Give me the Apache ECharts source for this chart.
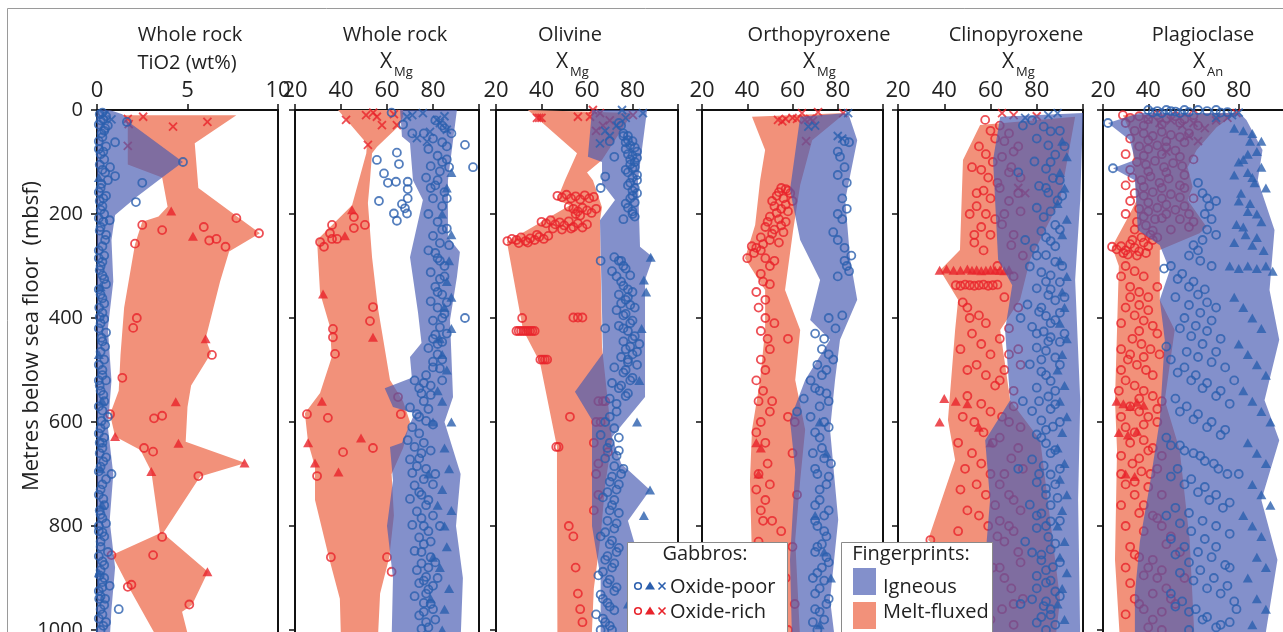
<!DOCTYPE html>
<html>
<head>
<meta charset="utf-8">
<script src="https://cdn.jsdelivr.net/npm/echarts@6/dist/echarts.min.js"></script>
<style>
html, body { margin: 0; padding: 0; background: #fff; overflow: hidden; }
#main { width: 1283px; height: 632px; }
</style>
</head>
<body>
<div id="main"></div>
<script>
var chart = echarts.init(document.getElementById('main'));
var FONT = "'Open Sans', sans-serif";
var BLUE = '#2b5fae', RED = '#e8232b';
var IGN = 'rgba(72,92,178,0.68)', MELT = '#f2917a';

// tick labels
var depthTicks = [0, 200, 400, 600, 800, 1000];
var tiTicks = [0, 5, 10];
var xTicks = [20, 40, 60, 80];

// ---- Whole rock TiO2 ----
var tiIgneous = [[0,0],[0.7,0],[1.4,8],[1.75,23],[4.75,100],[3.6,130],[2.2,167],[1.0,202],[0.8,250],[0.9,330],[0.6,420],[0.8,520],[0.6,610],[0.9,700],[0.7,790],[1.0,880],[0.8,960],[0.7,1020],[0,1020]];
var tiMelt = [[1.45,10],[7.7,10],[5.4,64],[5.6,150],[7.7,204],[9.0,237],[7.3,272],[6.8,330],[6.0,440],[6.3,468],[5.2,530],[5.0,571],[4.9,638],[8.2,679],[5.7,705],[3.65,814],[6.13,888],[5.25,952],[4.7,965],[5.1,1020],[3.4,1020],[1.71,915],[0.83,856],[3.48,814],[3.0,695],[2.4,654],[1.0,628],[0.72,585],[1.2,540],[1.3,470],[1.5,380],[2.1,258],[2.5,215],[3.4,205],[3.9,186],[3.6,130],[1.7,105],[1.7,27]];
var tiPoorO = [[1.0,62],[0.72,110],[1.0,127],[2.5,140],[2.15,177],[1.65,23],[4.75,100],[0.7,212],[1.2,960],
  [0.3,5],[0.5,12],[0.2,20],[0.6,30],[0.4,40],[0.3,52],[0.5,70],[0.2,85],[0.4,95],[0.3,115],[0.6,135],[0.2,150],[0.5,165],[0.3,185],[0.4,200],[0.2,225],[0.5,240],[0.3,262],[0.4,280],[0.2,300],[0.3,318],[0.5,335],[0.2,355],[0.4,372],[0.3,390],[0.2,410],[0.5,428],[0.3,445],[0.2,465],[0.4,480],[0.3,500],[0.5,520],[0.2,540],[0.4,560],[0.3,578],[0.6,590],[0.2,612],[0.4,630],[0.3,650],[0.5,668],[0.2,686],[0.8,700],[0.3,720],[0.1,740],[0.4,760],[0.2,778],[0.5,795],[0.3,812],[0.2,830],[0.6,850],[0.3,868],[0.2,885],[0.4,900],[0.3,918],[0.7,915],[0.2,935],[0.4,952],[0.3,970],[0.5,985],[0.2,1000],
  [0.1,60],[0.15,175],[0.1,270],[0.12,380],[0.1,520],[0.15,640],[0.1,810],[0.12,940],
  [0.15,8],[0.35,18],[0.1,28],[0.45,35],[0.25,45],[0.1,75],[0.35,80],[0.15,105],[0.45,120],[0.25,142],[0.1,158],[0.35,170],[0.2,192],[0.1,208],[0.35,215],[0.15,232],[0.45,250],[0.1,285],[0.3,292],[0.15,308],[0.4,325],[0.1,345],[0.3,362],[0.15,398],[0.4,402],[0.1,420],[0.25,438],[0.45,455],[0.1,490],[0.3,510],[0.15,530],[0.35,548],[0.1,570],[0.25,598],[0.45,605],[0.1,622],[0.3,640],[0.15,660],[0.35,676],[0.1,695],[0.5,710],[0.2,730],[0.35,748],[0.15,770],[0.3,785],[0.1,800],[0.4,820],[0.2,840],[0.1,858],[0.4,875],[0.15,895],[0.3,908],[0.1,925],[0.45,940],[0.2,960],[0.1,978],[0.35,992]];
var tiPoorT = [[0.1,130],[0.2,340],[0.1,470],[0.3,560],[0.2,690],[0.1,890],[0.3,760]];
var tiPoorX = [[0.4,10],[0.8,18]];
var tiRichO = [[2.5,221],[3.6,231],[2.1,257],[5.9,225],[7.7,208],[8.95,237],[6.2,251],[6.6,248],[7.1,263],[2.2,400],[2.0,419],[6.35,471],[1.4,515],[0.72,585],[3.15,593],[3.6,588],[2.6,650],[3.1,657],[5.6,704],[3.6,821],[3.1,856],[0.8,856],[1.7,917],[1.9,913],[5.1,951]];
var tiRichT = [[4.1,194],[5.3,243],[6.0,440],[4.35,561],[1.0,628],[4.5,641],[8.15,679],[3.0,695],[6.1,888]];
var tiRichX = [[1.7,17],[2.55,13],[4.2,32],[6.1,23],[1.75,27],[1.7,69]];

// ---- Whole rock XMg ----
var wrIgneous = [[65.7,0],[90.4,0],[86.5,135],[86.5,244],[91.7,273],[90.4,321],[87.4,404],[88.7,552],[85,600],[92,700],[90,800],[93,900],[92,1020],[62,1020],[62.6,900],[60,800],[62.6,712],[61.3,648],[66.5,640],[72,583],[62.6,571],[59,535],[70.8,515],[70,475],[75,448],[73.5,390],[70,283],[75.6,173],[71.3,135],[70,64],[66.5,51]];
var wrMelt = [[38.7,0],[67,0],[67,13],[64.8,32],[55.6,71],[53.5,83],[52.6,135],[51.7,179],[53.5,283],[56,379],[61.3,519],[67,560],[70,600],[67,650],[62,700],[63,780],[61,860],[57,930],[56,1020],[40,1020],[39.5,940],[35,865],[28.7,750],[28.7,686],[25.7,640],[24.3,583],[30.9,544],[36,475],[35.2,417],[30.9,352],[30,283],[29.6,250],[44.8,183],[51,83],[51.3,65]];
var wrPoorO = [[55.6,96],[64.3,82],[65.2,104],[58.7,122],[60.4,140],[63.9,138],[69,138],[69,152],[93.9,67],[97.4,110],[56.5,175],[66.5,181],[67.8,189],[63,199],[64.3,213],[69,170],[68.7,199],[93.9,400],[62,5],[67,28],[71,45],
  [76,45],[80,55],[84,62],[78,75],[82,88],[86,95],[79,108],[83,118],[77,130],[81,145],[85,158],[80,170],[84,185],[78,200],[82,215],[86,228],[80,242],[83,256],[78,270],[82,285],[85,300],[79,312],[83,325],[81,340],[84,355],[79,368],[82,380],[85,392],[80,405],[83,418],[81,432],[84,446],[78,458],[82,470],[80,484],[83,497],[77,510],[72,520],[74,535],[79,548],[76,560],[70,572],[73,585],[77,598],[71,610],[74,622],[69,635],[72,648],[75,660],[70,672],[73,685],[71,698],[76,710],[72,722],[74,735],[70,748],[77,760],[73,772],[75,785],[71,798],[78,810],[74,822],[76,835],[72,848],[79,860],[75,872],[73,885],[77,898],[74,910],[78,922],[72,935],[76,948],[80,960],[74,972],[77,985],[75,998],
  [81,20],[85,35],[79,150],[83,290],[80,440],[84,520],[81,700],[83,800],[82,900],
  [84,30],[88,45],[86,70],[84,100],[87,110],[82,135],[86,170],[84,230],[87,260],[81,275],[85,320],[82,350],[86,370],[84,400],[86,430],[82,450],[84,480],[80,495],[76,525],[79,530],[75,545],[78,575],[74,590],[80,605],[76,640],[79,655],[74,670],[77,690],[80,720],[75,740],[78,750],[80,780],[76,800],[79,830],[75,850],[81,870],[78,880],[76,905],[80,915],[77,930],[79,950],[76,965],[81,980],[78,995]];
var wrPoorT = [[88,120],[86,150],[84,200],[88,240],[87,290],[86,330],[88,360],[85,380],[88,420],[83,440],[84,470],[86,500],[82,540],[84,560],[88,600],[85,650],[87,690],[84,730],[88,770],[85,800],[86,840],[83,880],[87,920],[85,960],[84,1000],[80,600],[78,700],[82,760],[80,860],[79,940]];
var wrPoorX = [[68.7,13],[75.6,6],[78.7,42],[83,25],[86,38],[73,54],[77.4,61],[81.7,19],[71,10],[85,12]];
var wrRichO = [[36.1,221],[45.6,206],[50.4,221],[45.6,227],[35.2,237],[36.1,248],[30.9,254],[32.6,263],[38.3,248],[53.9,379],[52.6,406],[36.5,421],[36.5,437],[37.4,469],[25.2,585],[34.3,592],[40.9,658],[53.9,650],[29.6,704],[35.6,860],[60,860],[62,888],[64.8,552],[66,585]];
var wrRichT = [[44.8,192],[41.7,242],[32.2,354],[53.9,437],[31.7,560],[48.7,631],[25.7,640],[28.7,679],[38.9,696]];
var wrRichX = [[42.2,19],[50.9,10],[55.6,13],[57.8,29],[64.3,29],[51.7,67],[54,5],[63,8]];

// ---- Olivine XMg ----
var olIgneous = [[62.2,0],[86.4,0],[82.4,135],[83.3,263],[89,283],[85.5,327],[85.5,552],[71,629],[75,680],[87.7,731],[78,790],[82,850],[84,950],[84,1020],[66,1020],[66,900],[62.2,800],[62.2,596],[54.7,542],[67,468],[65.7,212],[72.3,173],[66.6,141],[66.6,100],[60.4,90]];
var olMelt = [[34,0],[80,6],[66.6,96],[60,120],[62.6,135],[66.6,187],[65.7,212],[66.6,456],[71,635],[68,720],[66,820],[63,920],[62,1020],[47,1020],[46.8,712],[46.8,648],[39.3,485],[31.9,423],[24.8,254],[52.5,183],[46.8,173],[50.3,135],[55.6,83]];
var olPoorO = [[76,45],[78,50],[80,60],[77,75],[82,80],[79,95],[81,100],[80,112],[78,120],[82,125],[79,140],[81,150],[80,165],[77,180],[80,195],[81,205],[70,60],[72,90],[75,30],[74,25],[66,150],[68,128],
  [72,283],[74,290],[76,300],[71,310],[73,320],[75,330],[78,345],[74,355],[77,365],[79,375],[73,385],[76,395],[80,405],[74,415],[78,425],[81,435],[76,445],[79,455],[82,465],[75,475],[78,485],[72,495],[76,505],[80,515],[71,525],[74,535],[78,545],[70,555],[73,565],[66,290],[68,420],
  [68,600],[72,612],[66,625],[70,640],[74,655],[68,670],[72,685],[75,700],[70,715],[73,730],[67,745],[71,760],[74,775],[69,790],[72,805],[66,820],[70,835],[73,850],[68,865],[71,880],[65,895],[69,910],[72,925],[67,940],[70,955],[64,970],[68,985],[71,1000],[66,1000],
  [76,50],[78,58],[77,62],[79,68],[81,72],[78,85],[80,88],[82,92],[79,105],[81,110],[77,115],[80,130],[82,135],[78,145],[80,155],[82,160],[79,170],[81,178],[78,188],[80,200],[76,210],
  [75,290],[77,305],[79,318],[76,338],[80,350],[78,360],[75,372],[81,380],[77,392],[79,410],[76,420],[80,440],[83,450],[77,460],[80,470],[78,480],[82,490],[77,500],[79,520],[75,530],[77,550],[73,580],[70,590],[74,630],[69,650],[73,665],[76,690],[71,705],[74,720],[69,735],[72,750],[70,770],[73,795],[68,812],[71,828],[74,842],[69,858],[72,872],[67,888],[70,903],[73,918],[66,932],[69,948],[72,962],[67,978],[70,992]];
var olPoorT = [[88,283],[85,327],[86,350],[84,420],[83,520],[87.7,731],[80,860],[82,600],[85,780],[78,950]];
var olPoorX = [[75.4,0],[84.6,6],[65.7,64],[70,50],[73,30],[77,15],[68,40]];
var olRichO = [[47,165],[49,168],[51,163],[53,170],[55,166],[57,172],[59,164],[61,170],[63,167],
  [52,186],[54,190],[56,195],[58,188],[60,193],[62,198],[64,190],[55,200],[57,203],
  [40,215],[42,218],[44,212],[46,220],[48,216],[50,222],[52,214],[54,225],[56,218],[58,226],[60,220],[45,228],[49,230],[53,228],
  [25,252],[27,248],[29,250],[31,245],[33,252],[35,247],[37,250],[39,244],[41,248],[43,242],[30,256],[34,255],[38,240],
  [31.5,400],[54,399],[56,399],[58,399],[29,425],[30,425],[31,425],[32,425],[33,425],[34,425],[35,425],[36,425],[37,425],[39.5,480],[40.5,480],[41.5,480],[42.5,480],[52.5,590],[46.5,648],[47.5,648],[69.2,658],
  [65,560],[67,560],[68,560],[64,600],[66,600],[63,640],[65,680],[64,700],[65,740],[63,770],[52,800],[54,820],[55,880],[56,930],[57,960],[58,985]];
var olRichT = [];
var olRichX = [[38,15],[39,15],[40,15],[56,13],[61.3,13],[62.6,0],[65.7,6],[80.2,10],[64,40],[67,30],[70,20]];

// ---- Orthopyroxene XMg ----
var opxIgneous = [[63.4,13],[84.6,6],[88.6,58],[83.3,173],[85.5,288],[88.6,365],[81,442],[78.8,519],[76.6,615],[80.2,788],[76.6,942],[78.8,1020],[59.8,1020],[58.9,865],[61.2,692],[58.9,596],[65.6,519],[76.6,442],[67.8,404],[72.2,327],[63.4,250],[58.9,154]];
var opxMelt = [[42.1,13],[83.3,6],[68.7,58],[63.4,144],[60.3,231],[56.7,346],[63.4,423],[61.2,519],[65.6,615],[63.4,712],[61.2,827],[63.4,1020],[45.7,1020],[42.1,865],[41.2,712],[42.1,615],[45.7,519],[47.9,423],[47.9,346],[39,285],[43.5,221],[45.7,135],[47.9,77]];
var opxPoorO = [[83,60],[85,62],[80,80],[84,140],[82,170],[80,200],[78,235],[83,290],[84,300],[80,320],[82,395],[76,400],[70,430],[73,460],[78,480],[75,500],[68,520],[72,540],[76,560],[74,600],[70,620],[73,650],[77,680],[71,700],[75,720],[72,750],[76,770],[70,790],[74,810],[71,840],[75,860],[73,880],[69,900],[72,920],[76,940],[70,960],[74,980],[71,1000],[65,555],[62,580],
  [81,90],[83,110],[80,125],[84,190],[82,210],[80,250],[83,265],[86,280],[85,310],[79,420],[74,440],[76,470],[71,490],[73,510],[70,535],[75,545],[72,570],[68,590],[76,610],[72,630],[69,660],[74,670],[70,690],[76,705],[72,730],[70,760],[74,780],[71,800],[75,820],[73,835],[70,850],[76,870],[71,890],[74,905],[70,930],[75,950],[72,965],[69,985]];
var opxPoorT = [[72,600],[75,660],[70,780],[74,850],[77,900],[72,990]];
var opxPoorX = [[67,32],[84.6,6],[70,30],[80,50],[82,55]];
var opxRichO = [[55,150],[57,152],[58,155],[53,165],[56,170],[60,175],[52,185],[55,190],[58,195],[50,205],[54,210],[57,215],[48,225],[52,230],[56,235],[46,245],[50,250],[54,255],[42,262],[44,265],[46,270],[40,285],[48,285],[52,290],
  [47,330],[50,335],[45,380],[48,400],[52,410],[46,425],[49,440],[58,440],[44,520],[47,540],[51,560],[58,590],[61,600],[44,620],[48,640],[60,660],[45,700],[50,720],[62,740],[47,790],[55,810],[60,840],[52,870],[57,900],[50,930],[61,950],[54,980],[58,1000],
  [54,158],[59,160],[51,175],[57,182],[53,198],[49,215],[55,222],[51,238],[47,258],[43,275],[50,300],[46,315],[44,350],[48,365],[50,460],[46,480],[48,500],[45,560],[50,580],[46,600],[49,680],[44,730],[48,750],[46,770],[51,790],[45,830],[49,850],[53,880],[47,910],[51,960]];
var opxRichT = [[44,640],[46,650],[45,700]];
var opxRichX = [[53.6,19],[55.5,22],[57,17],[62,17],[64.2,6],[65.5,19],[67.8,17],[69,21],[71.3,4],[82.4,6],[66,60],[60,15]];

// ---- Clinopyroxene XMg ----
var cpxIgneous = [[64.2,13],[100,6],[98.8,173],[96.6,327],[98.8,558],[97.9,750],[98.8,1020],[59.8,1020],[57.7,865],[59.8,750],[57.7,635],[68.5,558],[66.3,423],[69.4,337],[63.3,288],[61.1,96]];
var cpxMelt = [[55.5,29],[96.6,13],[90.1,173],[77.1,288],[72.8,365],[64.2,423],[68.5,558],[81.5,635],[85.8,788],[90.1,942],[88,1020],[46.8,1020],[44.7,981],[42.5,865],[33,827],[44.7,673],[41.6,596],[44.7,423],[46,365],[38.2,308],[46.8,269],[48.1,96]];
var cpxPoorO = [[78,20],[83,32],[86,41],[80,55],[85,68],[88,86],[79,99],[84,113],[87,131],[81,146],[85,159],[89,174],[80,188],[83,206],[88,221],[82,233],[86,252],[79,266],[84,279],[88,292],[77,301],[82,312],[86,318],[90,331],[80,343],[85,356],[88,366],[76,374],[81,388],[84,396],[88,404],[78,417],[83,426],[86,437],[90,446],[80,457],[84,463],[88,476],[77,489],[82,503],[86,521],[80,534],[85,551],[88,566],[78,579],[82,597],[87,609],[80,624],[84,641],[88,654],[78,672],[83,684],[86,701],[80,716],[84,728],[89,746],[77,759],[82,776],[86,791],[80,804],[85,821],[88,834],[78,851],[82,866],[87,879],[80,896],[84,909],[88,926],[78,941],[83,954],[86,971],[80,986],[84,1000],
  [74,30],[72,120],[75,250],[73,400],[74,560],[72,690],[75,830],[73,950],
  [90,40],[92,70],[86,100],[90,135],[84,150],[91,165],[86,195],[90,230],[84,245],[88,262],[80,280],[91,300],[84,330],[86,345],[92,360],[82,380],[90,390],[86,410],[80,430],[92,430],[85,445],[82,480],[90,490],[84,510],[88,540],[81,560],[86,575],[90,600],[84,615],[82,630],[86,660],[90,690],[81,700],[88,720],[84,740],[86,760],[80,780],[90,790],[84,800],[86,845],[82,855],[90,870],[84,885],[86,905],[80,920],[90,935],[84,945],[86,960],[82,975],[88,990]];
var cpxPoorT = [[91,60],[93,90],[90,120],[92,150],[89,180],[93,210],[91,240],[90,290],[93,320],[91,350],[92,380],[90,410],[93,440],[91,470],[89,500],[92,530],[90,560],[93,590],[91,620],[89,650],[92,680],[90,710],[93,740],[91,770],[89,800],[92,830],[90,860],[93,890],[91,920],[89,950],[92,980]];
var cpxPoorX = [[89,6],[85,10],[75,15]];
var cpxRichO = [[57.7,19],[60,40],[62,55],[55,70],[58,85],[61,100],[56,115],[59,130],[63,140],[57,155],[60,170],[54,185],[58,200],[62,210],[56,225],[60,240],[53,255],[57,270],
  [45,337],[47,338],[49,336],[51,337],[53,338],[55,337],[57,336],[59,338],[61,337],[63,336],
  [50,380],[55,395],[58,410],[52,430],[56,450],[60,470],[54,490],[58,510],[62,530],[50,550],[56,565],[60,580],[53,600],[57,620],[61,640],[52,660],[56,680],[60,700],[54,720],[58,740],[62,760],[55,780],[59,800],[34,827],[63,820],[53,840],[57,860],[61,880],[55,900],[59,920],[52,940],[56,960],[60,980],[54,1000],
  [66,60],[70,80],[68,120],[72,160],[66,200],[70,240],[68,420],[72,460],[66,500],[70,540],[68,600],[72,650],[66,700],[70,750],[68,800],[72,850],[66,900],[70,950],
  [64,30],[68,45],[72,70],[65,90],[69,110],[73,130],[64,150],[68,175],[73,195],[65,220],[69,260],[74,280],[63,300],[70,320],[66,360],[72,380],[64,440],[68,470],[73,490],[64,520],[70,570],[65,590],[73,610],[64,630],[69,670],[74,690],[64,720],[68,740],[73,770],[64,790],[70,810],[66,830],[73,870],[64,880],[69,920],[74,940],[65,960],[70,990],
  [52,110],[54,160],[51,200],[53,240],[48,370],[51,400],[47,460],[50,500],[48,590],[46,640],[49,690],[47,730],[50,770],[46,810],[49,850],[47,890],[50,930],[48,970]];
var cpxRichT = [[38,308],[41,306],[44,308],[47,308],[50,306],[52,308],[54,307],[56,309],[58,308],[60,307],[62,308],[64,308],[66,309],[68,307],[40,555],[45,560],[50,565],[38,600],[55,610],[60,640]];
var cpxRichX = [[65,6],[70,10],[80,12],[72,150],[75,160]];

// ---- Plagioclase XAn ----
var plIgneous = [[36.3,6],[22.2,25],[31.9,58],[34.1,96],[24.4,112],[34.1,135],[35.4,231],[45.1,260],[49.5,308],[45.1,365],[47.3,442],[45.1,596],[40.7,720],[36.3,830],[34.1,930],[34.1,1020],[91.4,1020],[97.1,865],[90,750],[97.9,635],[91.4,558],[97.9,442],[93.6,346],[95.8,231],[88.4,135],[90.5,77],[83.4,19],[80.4,6]];
var plMelt = [[28.8,10],[79,6],[70.2,33],[61.4,77],[57.4,110],[59.6,148],[57.4,173],[65.8,225],[62.7,237],[45.1,269],[45.1,365],[51.7,423],[47.3,558],[53.9,654],[58.3,827],[60.5,1020],[27.5,1020],[25.3,865],[26.2,654],[25.3,558],[26.2,423],[27,300],[24,263],[30.6,210],[35,173],[32.8,52]];
var plPoorO = [[22.2,25],[24.4,112],[40,0],[44,2],[48,0],[52,3],[56,0],[70,0],[75,4],[62,140],[64,160],[66,170],[60,260],[62,270],[65,200],[68,210],
  [50,300],[55,315],[60,330],[65,345],[52,360],[58,375],[63,390],[68,405],[54,420],[59,435],[64,450],[70,465],[50,480],[56,495],[61,510],[66,525],[72,540],[52,555],[57,570],[62,585],[68,600],[74,615],[48,630],[54,645],[60,660],[65,675],[71,690],[50,705],[56,720],[62,735],[67,750],[73,765],[48,780],[54,795],[59,810],[65,825],[70,840],[52,855],[58,870],[63,885],[69,900],[75,915],[50,930],[55,945],[61,960],[66,975],[72,990],[58,1000],
  [78,520],[80,700],[76,880],[79,960],
  [47,305],[53,325],[58,340],[62,355],[66,370],[70,380],[56,400],[61,415],[66,425],[72,440],[48,455],[57,465],[62,475],[68,485],[74,495],[53,505],[59,520],[64,535],[70,550],[76,565],[54,580],[60,595],[66,610],[72,625],[50,645],[56,655],[63,665],[69,680],[75,700],[53,690],[59,710],[65,725],[70,740],[76,755],[52,765],[58,775],[64,790],[70,800],[76,815],[50,825],[56,840],[62,850],[68,860],[74,875],[54,890],[60,905],[66,920],[72,930],[78,945],[52,955],[58,965],[64,980],[70,995],[76,985],
  [42,5],[46,6],[50,2],[54,6],[58,4],[62,0],[66,2],[72,5],[66,230],[70,240],[58,280],[63,290],[68,300],[64,250],[67,185],[70,175]];
var plPoorT = [[82,40],[85,60],[88,80],[80,100],[84,120],[87,140],[81,160],[85,180],[88,200],[79,220],[83,240],[86,260],[76,300],[80,305],[84,300],[88,305],[92,300],[95,310],[78,360],[82,380],[86,400],[90,420],[80,450],[84,470],[88,490],[92,510],[82,540],[86,560],[90,580],[94,600],[84,640],[88,660],[92,680],[86,720],[90,740],[94,760],[82,780],[86,800],[90,820],[88,860],[92,880],[84,900],[88,940],[92,960],[86,990],
  [78,35],[86,45],[90,60],[84,85],[82,95],[90,110],[78,125],[86,130],[92,150],[80,175],[84,195],[90,215],[82,225],[88,245],[78,255],[91,270]];
var plPoorX = [[70,15],[77,10],[80,5]];
var plRichO = [[28.8,10],[32,15],[36,12],[40,18],[44,10],[48,16],[52,12],[56,18],[60,10],
  [34,40],[38,45],[42,50],[46,42],[50,48],[54,52],[58,45],[36,70],[40,75],[44,68],[48,72],[52,78],[35,100],[39,105],[43,98],[47,110],[51,102],[55,108],[33,130],[37,135],[41,128],[45,140],[49,132],[34,160],[38,165],[42,158],[46,170],[50,162],[54,168],[36,190],[40,195],[44,188],[48,200],[52,192],[35,215],[39,222],[43,210],[58,200],[60,215],[56,150],
  [24,263],[26,268],[28,262],[30,270],[32,258],[34,265],[36,272],[38,255],[40,262],[42,250],[44,245],[41,240],[37,245],[33,250],[29,275],[31,278],[35,280],[39,275],
  [30,300],[34,310],[38,320],[32,340],[36,350],[40,360],[44,340],[30,380],[34,395],[38,405],[42,415],[33,440],[37,450],[41,460],[45,470],[31,480],[35,490],[39,500],[30,520],[34,530],[38,540],[42,550],[46,560],[32,570],[36,580],[40,590],[44,600],[30,610],[34,620],[38,635],[42,650],[46,665],[33,680],[37,695],[41,700],[30,720],[34,740],[38,760],[42,780],[46,800],[50,820],[32,840],[36,860],[40,880],[44,900],[48,920],[34,940],[38,960],[42,980],[46,1000],[54,850],[56,900],[52,950],
  [30,25],[38,30],[46,28],[54,25],[62,30],[32,55],[40,58],[48,60],[56,62],[30,85],[38,88],[46,85],[54,90],[60,95],[32,115],[40,118],[48,120],[56,125],[30,145],[38,148],[46,150],[54,145],[60,170],[32,175],[40,178],[48,182],[56,185],[30,200],[38,205],[46,208],[54,210],[34,230],[42,232],[50,230],[58,225],
  [28,320],[32,360],[36,375],[40,385],[28,410],[36,425],[44,430],[28,460],[32,470],[38,475],[28,500],[42,510],[27,540],[36,555],[44,575],[28,590],[38,605],[32,640],[40,655],[28,665],[36,670],[44,690],[28,700],[34,715],[40,725],[46,740],[28,760],[36,775],[44,785],[30,800],[38,810],[48,835],[34,855],[42,865],[30,880],[46,885],[38,895],[32,910],[42,930],[50,940],[36,950],[30,970],[46,965],[40,995]];
var plRichT = [[26,560],[29,565],[32,570],[35,562],[38,568],[27,620],[31,625],[35,618],[30,700],[34,705]];
var plRichX = [[40,18],[45,25],[50,20],[55,30],[60,25],[65,35],[70,20],[75,15],[79,6],[58,50],[62,60],[48,80]];

var titles = ['Whole rock', 'Whole rock', 'Olivine', 'Orthopyroxene', 'Clinopyroxene', 'Plagioclase'];
var subLabels = ['TiO2 (wt%)', 'X', 'X', 'X', 'X', 'X'];
var subScripts = ['', 'Mg', 'Mg', 'Mg', 'Mg', 'An'];

var panels = [
  {left: 97, width: 181, min: 0, max: 10, step: 5, ticks: tiTicks, tx: 190, sx: 187, ign: tiIgneous, melt: tiMelt, poor: [tiPoorO, tiPoorT, tiPoorX], rich: [tiRichO, tiRichT, tiRichX]},
  {left: 295, width: 184, min: 20, max: 100, step: 20, ticks: xTicks, tx: 395, sx: 386, ign: wrIgneous, melt: wrMelt, poor: [wrPoorO, wrPoorT, wrPoorX], rich: [wrRichO, wrRichT, wrRichX]},
  {left: 496, width: 182, min: 20, max: 100, step: 20, ticks: xTicks, tx: 570, sx: 562, ign: olIgneous, melt: olMelt, poor: [olPoorO, olPoorT, olPoorX], rich: [olRichO, olRichT, olRichX]},
  {left: 702, width: 181, min: 20, max: 100, step: 20, ticks: xTicks, tx: 819, sx: 809, ign: opxIgneous, melt: opxMelt, poor: [opxPoorO, opxPoorT, opxPoorX], rich: [opxRichO, opxRichT, opxRichX]},
  {left: 898, width: 185, min: 20, max: 100, step: 20, ticks: xTicks, tx: 1016, sx: 1008, ign: cpxIgneous, melt: cpxMelt, poor: [cpxPoorO, cpxPoorT, cpxPoorX], rich: [cpxRichO, cpxRichT, cpxRichX]},
  {left: 1103, width: 181, min: 20, max: 100, step: 20, ticks: xTicks, tx: 1203, sx: 1199, ign: plIgneous, melt: plMelt, poor: [plPoorO, plPoorT, plPoorX], rich: [plRichO, plRichT, plRichX]}
];

function polySeries(i, pts, fill, z) {
  return {
    type: 'custom', xAxisIndex: i, yAxisIndex: i, z: z, silent: true,
    data: pts, encode: {x: 0, y: 1},
    renderItem: function (params, api) {
      if (params.dataIndex !== 0) return null;
      return {
        type: 'polygon',
        shape: {points: pts.map(function (p) { return api.coord(p); })},
        style: {fill: fill}
      };
    }
  };
}

function dots(i, pts, kind, color, z) {
  var s = {type: 'scatter', xAxisIndex: i, yAxisIndex: i, z: z, silent: true, clip: false, data: pts};
  if (kind === 'o') {
    s.symbol = 'circle'; s.symbolSize = 8;
    s.itemStyle = {color: 'rgba(255,255,255,0)', borderColor: color, borderWidth: 1.8};
  } else if (kind === 't') {
    s.symbol = 'triangle'; s.symbolSize = [10, 9];
    s.itemStyle = {color: color};
  } else {
    s.symbol = 'path://M0,0L10,10M10,0L0,10'; s.symbolSize = 8;
    s.itemStyle = {color: 'rgba(0,0,0,0)', borderColor: color, borderWidth: 1.8};
  }
  return s;
}

var grids = [], xAxes = [], yAxes = [], series = [], graphics = [];
var kinds = ['o', 't', 'x'];

panels.forEach(function (p, i) {
  grids.push({left: p.left, width: p.width, top: 110, height: 530.4, show: true, borderColor: '#111', borderWidth: 2, containLabel: false, outerBoundsMode: 'none'});
  xAxes.push({
    gridIndex: i, type: 'value', position: 'top', min: p.min, max: p.max, interval: p.step,
    axisLine: {show: true, lineStyle: {color: '#111', width: 2}},
    axisTick: {show: true, inside: false, length: 6, lineStyle: {color: '#111', width: 1.5}},
    splitLine: {show: false},
    axisLabel: {
      show: true, margin: 8, color: '#222', fontSize: 22, fontFamily: FONT,
      formatter: (function (ticks) { return function (v) { return ticks.indexOf(v) >= 0 ? String(v) : ''; }; })(p.ticks)
    }
  });
  yAxes.push({
    gridIndex: i, type: 'value', inverse: true, min: 0, max: 1020, interval: 200,
    axisLine: {show: true, lineStyle: {color: '#111', width: 2}},
    axisTick: {show: true, inside: false, length: 6, lineStyle: {color: '#111', width: 1.5}},
    splitLine: {show: false},
    axisLabel: {
      show: i === 0, margin: 14, color: '#222', fontSize: 20, fontFamily: FONT,
      formatter: function (v) { return depthTicks.indexOf(v) >= 0 ? String(v) : ''; }
    }
  });
  series.push(polySeries(i, p.melt, MELT, 1));
  p.rich.forEach(function (arr, k) { if (arr.length) series.push(dots(i, arr, kinds[k], RED, 2)); });
  series.push(polySeries(i, p.ign, IGN, 3));
  p.poor.forEach(function (arr, k) { if (arr.length) series.push(dots(i, arr, kinds[k], BLUE, 4)); });

  // panel titles
  graphics.push({type: 'text', x: p.tx, y: 35, style: {text: titles[i], fill: '#222', font: '20px ' + FONT, textAlign: 'center', textVerticalAlign: 'middle'}});
  if (subScripts[i]) {
    graphics.push({type: 'text', x: p.sx, y: 62, style: {text: subLabels[i], fill: '#222', font: '21px ' + FONT, textAlign: 'center', textVerticalAlign: 'middle'}});
    graphics.push({type: 'text', x: p.sx + 8, y: 72, style: {text: subScripts[i], fill: '#222', font: '13px ' + FONT, textAlign: 'left', textVerticalAlign: 'middle'}});
  } else {
    graphics.push({type: 'text', x: p.sx, y: 63, style: {text: subLabels[i], fill: '#222', font: '20px ' + FONT, textAlign: 'center', textVerticalAlign: 'middle'}});
  }
});

// figure border
graphics.push({type: 'rect', z: 0, shape: {x: 7.5, y: 8.5, width: 1300, height: 700}, style: {fill: 'none', stroke: '#9a9a9a', lineWidth: 1}});

// depth axis title
graphics.push({type: 'text', x: 32, y: 336, rotation: Math.PI / 2, style: {text: 'Metres below sea floor  (mbsf)', fill: '#222', font: '22px ' + FONT, textAlign: 'center', textVerticalAlign: 'middle'}});

// legend: Gabbros
graphics.push({type: 'rect', z: 100, shape: {x: 627.5, y: 542.5, width: 160, height: 120}, style: {fill: '#fff', stroke: '#8a8a8a', lineWidth: 1}});
graphics.push({type: 'text', z: 101, x: 705, y: 554, style: {text: 'Gabbros:', fill: '#222', font: '20px ' + FONT, textAlign: 'center', textVerticalAlign: 'middle'}});
[['Oxide-poor', BLUE, 586], ['Oxide-rich', RED, 611]].forEach(function (r) {
  graphics.push({type: 'circle', z: 101, shape: {cx: 638, cy: r[2], r: 3.3}, style: {fill: 'none', stroke: r[1], lineWidth: 1.6}});
  graphics.push({type: 'polygon', z: 101, shape: {points: [[650, r[2] - 4.5], [655, r[2] + 3.5], [645, r[2] + 3.5]]}, style: {fill: r[1]}});
  graphics.push({type: 'polyline', z: 101, shape: {points: [[658.5, r[2] - 3.5], [665.5, r[2] + 3.5]]}, style: {stroke: r[1], lineWidth: 1.6}});
  graphics.push({type: 'polyline', z: 101, shape: {points: [[665.5, r[2] - 3.5], [658.5, r[2] + 3.5]]}, style: {stroke: r[1], lineWidth: 1.6}});
  graphics.push({type: 'text', z: 101, x: 670, y: r[2] + 1, style: {text: r[0], fill: '#222', font: '20px ' + FONT, textAlign: 'left', textVerticalAlign: 'middle'}});
});

// legend: Fingerprints
graphics.push({type: 'rect', z: 100, shape: {x: 841.5, y: 542.5, width: 151, height: 120}, style: {fill: '#fff', stroke: '#8a8a8a', lineWidth: 1}});
graphics.push({type: 'text', z: 101, x: 911, y: 554, style: {text: 'Fingerprints:', fill: '#222', font: '20px ' + FONT, textAlign: 'center', textVerticalAlign: 'middle'}});
graphics.push({type: 'rect', z: 101, shape: {x: 853, y: 568, width: 23, height: 27}, style: {fill: IGN}});
graphics.push({type: 'text', z: 101, x: 883, y: 587, style: {text: 'Igneous', fill: '#222', font: '20px ' + FONT, textAlign: 'left', textVerticalAlign: 'middle'}});
graphics.push({type: 'rect', z: 101, shape: {x: 853, y: 602, width: 23, height: 27}, style: {fill: MELT}});
graphics.push({type: 'text', z: 101, x: 883, y: 612, style: {text: 'Melt-fluxed', fill: '#222', font: '20px ' + FONT, textAlign: 'left', textVerticalAlign: 'middle'}});

chart.setOption({
  backgroundColor: '#fff',
  animation: false,
  grid: grids,
  xAxis: xAxes,
  yAxis: yAxes,
  series: series,
  graphic: {elements: graphics}
});
</script>
</body>
</html>
